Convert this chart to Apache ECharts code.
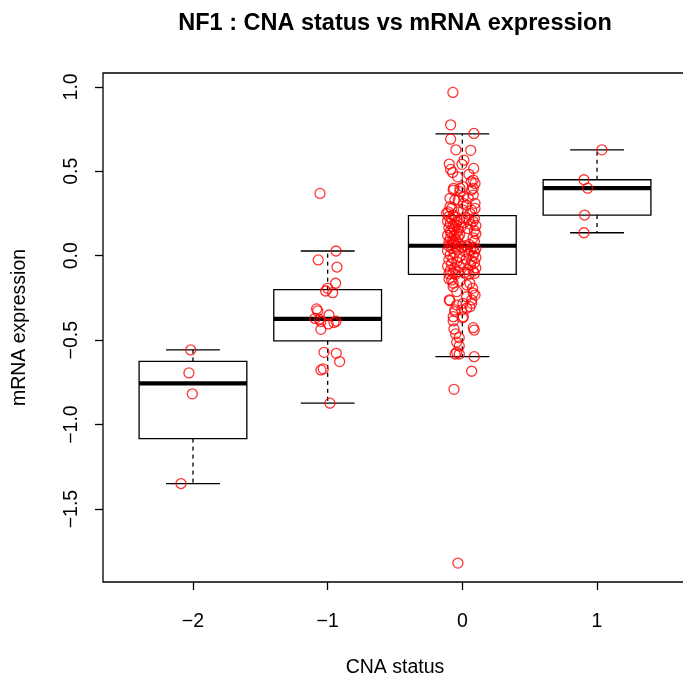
<!DOCTYPE html>
<html><head><meta charset="utf-8">
<script src="https://cdn.jsdelivr.net/npm/echarts@6/dist/echarts.min.js"></script>
<style>html,body{margin:0;padding:0;background:#fff}#c{width:683px;height:677px}</style>
</head><body><div id="c"></div>
<script>
// ---- data ----
const categories = [-2, -1, 0, 1];
const xTickValues = [-2, -1, 0, 1];
const yTickValues = [-1.5, -1, -0.5, 0, 0.5, 1];
// box statistics per CNA status: [lower whisker, Q1, median, Q3, upper whisker]
const boxMinus2 = [-1.349, -1.083, -0.756, -0.626, -0.558];
const boxMinus1 = [-0.873, -0.504, -0.374, -0.201, 0.028];
const boxZero   = [-0.598, -0.110, 0.059, 0.237, 0.722];
const boxPlus1  = [0.136, 0.241, 0.400, 0.450, 0.627];
// jittered points: [horizontal jitter, mRNA expression]
const ptsMinus2 = [[-0.017,-0.558],[-0.030,-0.694],[-0.005,-0.818],[-0.089,-1.349]];
const ptsMinus1 = [[-0.057,0.369],[0.062,0.028],[-0.070,-0.025],[0.069,-0.067],[0.059,-0.163],[0.000,-0.193],
  [-0.015,-0.209],[0.037,-0.219],[-0.082,-0.315],[-0.074,-0.327],[-0.094,-0.371],[-0.062,-0.376],[0.010,-0.351],
  [-0.050,-0.390],[0.004,-0.404],[0.047,-0.396],[0.062,-0.388],[-0.050,-0.436],[-0.027,-0.572],[0.064,-0.578],
  [0.089,-0.627],[-0.050,-0.676],[-0.033,-0.670],[0.017,-0.873]];
const ptsZeroUpper = [[-0.070,0.967],[-0.087,0.775],[0.086,0.724],[-0.087,0.690],[-0.048,0.627],[0.062,0.624],
  [0.012,0.566],[-0.097,0.543],[-0.003,0.541],[0.084,0.517],[-0.087,0.511],[-0.072,0.493],[-0.035,0.467],
  [0.049,0.482],[0.081,0.448],[0.066,0.438],[-0.065,0.399],[-0.018,0.399],[0.081,0.399],[0.094,0.428],
  [0.007,0.408],[0.069,0.389],[-0.068,0.389],[-0.018,0.379],[0.081,0.359],[0.007,0.349],[-0.092,0.340],
  [0.044,0.340],[-0.055,0.330],[-0.030,0.330],[0.094,0.310],[0.007,0.310],[0.032,0.300],[-0.092,0.290],
  [0.094,0.280],[-0.079,0.280],[0.007,0.270],[0.069,0.270],[-0.105,0.260],[-0.030,0.260],[0.056,0.251],
  [-0.117,0.251],[-0.068,0.241]];
const ptsZeroBoxHigh = [[-0.10,0.232],[-0.06,0.228],[0.03,0.226],[0.09,0.222],[-0.08,0.218],[-0.02,0.214],
  [0.05,0.210],[-0.11,0.205],[0.08,0.202],[-0.04,0.199],[0.01,0.195],[-0.09,0.190],[0.06,0.186],[-0.05,0.182],
  [0.10,0.178],[-0.07,0.174],[-0.01,0.170],[-0.10,0.165],[0.04,0.161],[-0.06,0.157],[-0.03,0.152],[0.09,0.148],
  [-0.09,0.144],[-0.04,0.139],[-0.08,0.134],[0.10,0.130],[-0.02,0.125],[-0.11,0.121],[-0.06,0.116],[-0.03,0.111],
  [0.08,0.106],[-0.09,0.101],[-0.05,0.096],[-0.07,0.091],[0.09,0.086],[-0.10,0.081],[-0.03,0.076],[-0.06,0.071],
  [0.05,0.067],[-0.08,0.063],[0.02,0.060]];
const ptsZeroBoxLow = [[-0.10,0.057],[-0.05,0.055],[0.00,0.053],[0.04,0.052],[0.08,0.050],[-0.08,0.046],
  [0.10,0.042],[-0.03,0.038],[0.06,0.034],[-0.11,0.029],[0.02,0.025],[0.09,0.020],[-0.06,0.015],[0.05,0.010],
  [-0.09,0.005],[0.08,0.000],[-0.02,-0.005],[0.10,-0.010],[-0.07,-0.015],[0.03,-0.020],[-0.10,-0.026],
  [0.07,-0.031],[-0.04,-0.036],[0.09,-0.041],[-0.08,-0.047],[0.01,-0.052],[0.06,-0.057],[-0.11,-0.062],
  [-0.02,-0.067],[0.10,-0.072],[-0.06,-0.077],[0.04,-0.082],[-0.09,-0.087],[0.08,-0.091],[-0.03,-0.095],
  [0.02,-0.099],[-0.07,-0.102],[0.09,-0.105],[-0.10,-0.107],[0.05,-0.109],[-0.05,-0.110]];
const ptsZeroLower = [[-0.099,-0.138],[-0.079,-0.144],[-0.018,-0.150],[-0.068,-0.163],[0.056,-0.163],
  [0.032,-0.173],[-0.068,-0.183],[0.076,-0.193],[-0.042,-0.213],[0.081,-0.222],[0.094,-0.233],[0.032,-0.243],
  [-0.097,-0.262],[-0.092,-0.266],[0.069,-0.262],[0.004,-0.282],[0.069,-0.282],[-0.042,-0.292],[0.056,-0.302],
  [0.032,-0.310],[-0.055,-0.321],[-0.005,-0.321],[-0.055,-0.331],[-0.068,-0.361],[0.007,-0.361],[0.002,-0.368],
  [-0.068,-0.386],[-0.062,-0.434],[0.081,-0.426],[0.088,-0.440],[-0.050,-0.463],[-0.023,-0.485],[-0.042,-0.512],
  [-0.023,-0.534],[-0.042,-0.572],[-0.053,-0.582],[-0.023,-0.582],[0.088,-0.598],[0.069,-0.684],[-0.062,-0.791],
  [-0.033,-1.820]];
const ptsPlus1 = [[0.036,0.627],[-0.097,0.450],[-0.070,0.400],[-0.092,0.241],[-0.097,0.136]];

const titleText = 'NF1 : CNA status vs mRNA expression';
const xName = 'CNA status';
const yName = 'mRNA expression';

// ---- build ----
const boxes = [boxMinus2, boxMinus1, boxZero, boxPlus1];
const boxData = categories.map((c, i) => [c].concat(boxes[i]));
const groups = [
  [-2, ptsMinus2], [-1, ptsMinus1],
  [0, ptsZeroUpper.concat(ptsZeroBoxHigh, ptsZeroBoxLow, ptsZeroLower)], [1, ptsPlus1]
];
const scatterData = [];
groups.forEach(([c, pts]) => pts.forEach(p => scatterData.push([c + p[0], p[1]])));

const minus = s => String(s).replace('-', '\u2212');
const FONT = '"Liberation Sans", Arial, Helvetica, sans-serif';

function renderBox(params, api) {
  const x = api.value(0);
  const lw = api.value(1), q1 = api.value(2), med = api.value(3), q3 = api.value(4), uw = api.value(5);
  const hw = 0.4, cw = 0.2;
  const c = v => api.coord([x, v]);
  const tl = api.coord([x - hw, q3]), br = api.coord([x + hw, q1]);
  const solid = { stroke: '#000', lineWidth: 1.3, fill: null };
  const dashed = { stroke: '#000', lineWidth: 1.3, lineDash: [4, 4], fill: null };
  const cap = v => {
    const a = api.coord([x - cw, v]), b = api.coord([x + cw, v]);
    return { type: 'line', shape: { x1: a[0], y1: a[1], x2: b[0], y2: b[1] }, style: solid };
  };
  const ml = api.coord([x - hw, med]), mr = api.coord([x + hw, med]);
  return {
    type: 'group',
    children: [
      { type: 'line', shape: { x1: c(q3)[0], y1: c(q3)[1], x2: c(uw)[0], y2: c(uw)[1] }, style: dashed },
      { type: 'line', shape: { x1: c(q1)[0], y1: c(q1)[1], x2: c(lw)[0], y2: c(lw)[1] }, style: dashed },
      cap(uw), cap(lw),
      { type: 'rect', shape: { x: tl[0], y: tl[1], width: br[0] - tl[0], height: br[1] - tl[1] }, style: solid },
      { type: 'line', shape: { x1: ml[0], y1: ml[1], x2: mr[0], y2: mr[1] }, style: { stroke: '#000', lineWidth: 4.2 } }
    ]
  };
}

const chart = echarts.init(document.getElementById('c'), null, { renderer: 'canvas' });
chart.setOption({
  animation: false,
  backgroundColor: '#fff',
  textStyle: { fontFamily: FONT, color: '#000' },
  title: {
    text: titleText, left: 395, top: 12, textAlign: 'center', padding: 0,
    textStyle: { fontFamily: FONT, fontSize: 23.5, fontWeight: 'bold', color: '#000' }
  },
  grid: { left: 103, top: 73, width: 584, height: 509, outerBoundsMode: 'none',
    show: true, borderColor: '#000', borderWidth: 1.3, containLabel: false },
  xAxis: {
    type: 'value', min: -2.668, max: 1.668,
    name: xName, nameLocation: 'middle', nameGap: 76,
    nameTextStyle: { fontFamily: FONT, fontSize: 19.5, color: '#000' },
    axisLine: { show: false, onZero: false },
    splitLine: { show: false },
    axisTick: { show: true, length: 8, lineStyle: { color: '#000', width: 1.3 }, customValues: xTickValues },
    axisLabel: { customValues: xTickValues, formatter: v => minus(v), fontFamily: FONT, fontSize: 19.5, color: '#000', margin: 30 }
  },
  yAxis: {
    type: 'value', min: -1.932, max: 1.082,
    name: yName, nameLocation: 'middle', nameGap: 73, nameRotate: 90,
    nameTextStyle: { fontFamily: FONT, fontSize: 19.5, color: '#000' },
    axisLine: { show: false, onZero: false },
    splitLine: { show: false },
    axisTick: { show: true, length: 8, lineStyle: { color: '#000', width: 1.3 }, customValues: yTickValues },
    axisLabel: { customValues: yTickValues, rotate: 90, formatter: v => minus(Number(v).toFixed(1)), fontFamily: FONT, fontSize: 19.5, color: '#000', margin: 21 }
  },
  series: [
    { type: 'custom', renderItem: renderBox, data: boxData, z: 2, encode: { x: 0, y: [1, 2, 3, 4, 5] }, clip: false },
    {
      type: 'scatter', data: scatterData, z: 3, symbol: 'circle', symbolSize: 10,
      itemStyle: { color: 'rgba(0,0,0,0)', borderColor: '#ff0000', borderWidth: 1.3 }
    }
  ]
});
</script>
</body></html>
